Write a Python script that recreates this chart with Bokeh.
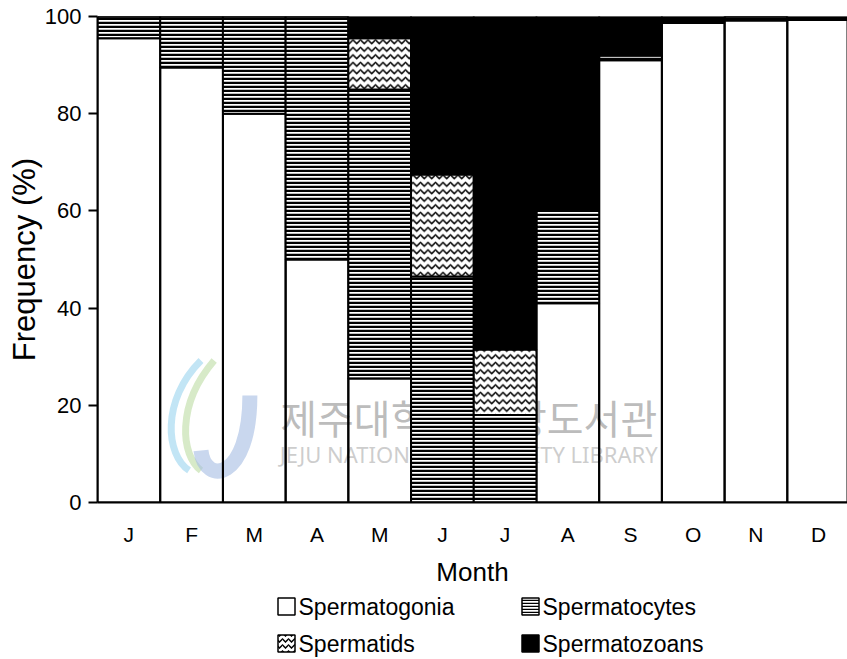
from bokeh.plotting import figure
from bokeh.layouts import column
from bokeh.models import FixedTicker, Range1d
from bokeh.core.properties import value
from bokeh.embed import file_html
from bokeh.resources import INLINE

# Monthly frequency (%) of germ-cell stages
months = ["J", "F", "M", "A", "M", "J", "J", "A", "S", "O", "N", "D"]
month_pos = list(range(1, 13))
spermatogonia = [95.5, 89.5, 80.0, 50.0, 25.5, 0.0, 0.0, 41.0, 91.0, 98.7, 99.2, 99.3]
spermatocytes = [4.5, 10.5, 20.0, 50.0, 59.5, 46.5, 18.0, 19.0, 1.0, 0.0, 0.8, 0.0]
spermatids = [0.0, 0.0, 0.0, 0.0, 10.5, 21.0, 13.5, 0.0, 0.0, 0.0, 0.0, 0.0]
spermatozoans = [0.0, 0.0, 0.0, 0.0, 4.5, 32.5, 68.5, 40.0, 8.0, 1.3, 0.0, 0.7]

stages = ["spermatogonia", "spermatocytes", "spermatids", "spermatozoans"]
stage_labels = ["Spermatogonia", "Spermatocytes", "Spermatids", "Spermatozoans"]

# fill / hatch style of each stage
stage_fill = ["white", "white", "white", "black"]
stage_fill_alpha = [0.0, 1.0, 1.0, 1.0]
stage_hatch = ["blank", "horizontal_line", "horizontal_wave", "blank"]
stage_hatch_scale = [4, 4, 7.5, 4]
stage_hatch_weight = [2, 2.5, 1.5, 2]

data = dict(x=month_pos, spermatogonia=spermatogonia, spermatocytes=spermatocytes,
            spermatids=spermatids, spermatozoans=spermatozoans)

FONT = "Liberation Sans"
FRAME_LEFT = 97

p = figure(width=847, height=595, output_backend="svg", toolbar_location=None,
           x_range=Range1d(0.5, 12.46), y_range=Range1d(0, 100),
           min_border_left=FRAME_LEFT, min_border_right=0, min_border_top=16,
           min_border_bottom=93)
p.outline_line_color = None
p.xgrid.visible = False
p.ygrid.visible = False
p.background_fill_color = "white"
p.border_fill_color = "white"

# faint library watermark, drawn first so the patterned bars cover it
p.bezier(x0=[2.15, 2.36], y0=[29.2, 29.2], x1=[1.96, 2.15], y1=[6.6, 6.6],
         cx0=[1.51, 1.75], cy0=[21.0, 20.0], cx1=[1.59, 1.83], cy1=[9.7, 9.7],
         line_color=["#8fd0ec", "#b7d99a"], line_width=7, line_alpha=0.55)
p.bezier(x0=[2.93], y0=[22.0], x1=[2.15], y1=[10.7],
         cx0=[2.93], cy0=[4.5], cx1=[2.21], cy1=[3.5],
         line_color="#a5bde3", line_width=15, line_alpha=0.6)
p.text(x=[6.42], y=[17.5], text=["제주대학교 중앙도서관"],
       text_font=value("Noto Sans CJK KR"), text_font_size="40px",
       text_color="#a6a6a6", text_alpha=0.75,
       text_align="center", text_baseline="middle")
p.text(x=[6.42], y=[9.9], text=["JEJU NATIONAL UNIVERSITY LIBRARY"],
       text_font=value("Noto Sans"), text_font_size="22px",
       text_color="#bdbdbd", text_alpha=0.75,
       text_align="center", text_baseline="middle")

renderers = p.vbar_stack(
    stages, x="x", width=1.0, source=data,
    fill_color=stage_fill, fill_alpha=stage_fill_alpha,
    line_color="black", line_width=2,
    hatch_pattern=stage_hatch, hatch_color="black",
    hatch_scale=stage_hatch_scale, hatch_weight=stage_hatch_weight,
)

# x axis: month initials
p.xaxis.ticker = FixedTicker(ticks=month_pos)
p.xaxis.major_label_overrides = {m: lab for m, lab in zip(month_pos, months)}
p.xaxis.major_tick_in = 0
p.xaxis.major_tick_out = 0
p.xaxis.minor_tick_line_color = None
p.xaxis.axis_line_width = 2
p.xaxis.axis_line_color = "black"
p.xaxis.major_label_text_font = FONT
p.xaxis.major_label_text_font_size = "21px"
p.xaxis.major_label_text_color = "black"
p.xaxis.major_label_standoff = 20
p.xaxis.axis_label = "Month"
p.xaxis.axis_label_text_font = FONT
p.xaxis.axis_label_text_font_size = "26px"
p.xaxis.axis_label_text_font_style = "normal"
p.xaxis.axis_label_text_color = "black"
p.xaxis.axis_label_standoff = 8

# y axis: frequency
p.yaxis.ticker = FixedTicker(ticks=[0, 20, 40, 60, 80, 100])
p.yaxis.major_tick_in = 0
p.yaxis.major_tick_out = 9
p.yaxis.major_tick_line_width = 2
p.yaxis.minor_tick_line_color = None
p.yaxis.axis_line_width = 2
p.yaxis.axis_line_color = "black"
p.yaxis.major_label_text_font = FONT
p.yaxis.major_label_text_font_size = "22px"
p.yaxis.major_label_text_color = "black"
p.yaxis.major_label_standoff = 7
p.yaxis.axis_label = "Frequency (%)"
p.yaxis.axis_label_text_font = FONT
p.yaxis.axis_label_text_font_size = "31px"
p.yaxis.axis_label_text_font_style = "normal"
p.yaxis.axis_label_text_color = "black"
p.yaxis.axis_label_standoff = 0

# legend strip under the chart: two rows of swatch + name
# (its frame lines up with the chart frame, so x is in page pixels from FRAME_LEFT)
leg = figure(width=847, height=64, output_backend="svg", toolbar_location=None,
             x_range=Range1d(FRAME_LEFT, 847), y_range=Range1d(64, 0),
             x_axis_location=None, y_axis_location=None,
             min_border=0, min_border_left=FRAME_LEFT)
leg.outline_line_color = None
leg.xgrid.visible = False
leg.ygrid.visible = False
leg.background_fill_color = "white"
leg.border_fill_color = "white"

swatch_x = [286, 530, 286, 530]
swatch_y = [11, 11, 48, 48]
leg.rect(x=swatch_x, y=swatch_y, width=17, height=17,
         fill_color=stage_fill, line_color="black", line_width=1.5,
         hatch_pattern=stage_hatch, hatch_color="black",
         hatch_scale=[4, 3, 6, 4], hatch_weight=[1.5, 1.5, 1.5, 1.5])
leg.text(x=[x + 12 for x in swatch_x], y=swatch_y, text=stage_labels,
         text_font=value(FONT), text_font_size="23px", text_color="black",
         text_align="left", text_baseline="middle")

layout = column(p, leg, spacing=0)
open("out.html", "w").write(file_html(layout, INLINE))
